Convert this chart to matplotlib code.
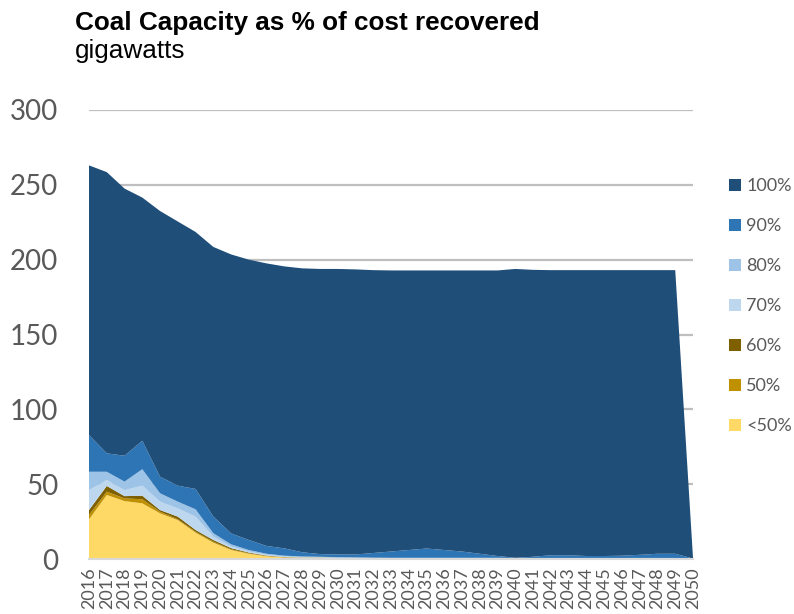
import matplotlib
matplotlib.use("Agg")
import matplotlib.pyplot as plt
from matplotlib.patches import Patch

years = list(range(2016, 2051))

# Capacity (GW) by share of cost recovered
lt50 = [26.5, 42.8, 38.7, 37.2, 30.5, 26.0, 17.6, 10.9, 6.0, 3.5, 1.8, 1.0, 0.8, 0.8,
        0.6, 0.5, 0.4, 0.3, 0.3, 0.3, 0.3, 0.3, 0.3, 0.3, 0.3, 0.3, 0.3, 0.3, 0.3,
        0.3, 0.3, 0.3, 0.3, 0.3, 0.0]
p50 = [2.9, 2.2, 1.8, 2.7, 1.1, 0.5, 0.6, 0.7, 0.5, 0.3, 0.2, 0.1, 0.1, 0.1,
       0.1, 0.1, 0.0, 0.0, 0.0, 0.0, 0.0, 0.0, 0.0, 0.0, 0.0, 0.0, 0.0, 0.0, 0.0,
       0.0, 0.0, 0.0, 0.0, 0.0, 0.0]
p60 = [3.3, 3.8, 1.5, 2.4, 1.1, 1.8, 1.2, 1.1, 0.8, 0.5, 0.3, 0.2, 0.1, 0.1,
       0.0, 0.0, 0.0, 0.0, 0.0, 0.0, 0.0, 0.0, 0.0, 0.0, 0.0, 0.0, 0.0, 0.0, 0.0,
       0.0, 0.0, 0.0, 0.0, 0.0, 0.0]
p70 = [13.3, 4.0, 4.0, 6.7, 5.6, 5.5, 8.9, 2.2, 1.0, 0.7, 0.5, 0.4, 0.3, 0.2,
       0.2, 0.2, 0.2, 0.2, 0.2, 0.2, 0.2, 0.2, 0.2, 0.2, 0.1, 0.1, 0.1, 0.1, 0.1,
       0.1, 0.1, 0.1, 0.1, 0.1, 0.0]
p80 = [12.3, 5.5, 5.7, 11.0, 5.6, 4.5, 4.9, 2.3, 1.5, 1.0, 0.7, 0.5, 0.4, 0.3,
       0.3, 0.3, 0.3, 0.3, 0.3, 0.3, 0.3, 0.3, 0.3, 0.3, 0.3, 0.3, 0.3, 0.3, 0.3,
       0.3, 0.3, 0.3, 0.3, 0.3, 0.0]
p90 = [24.5, 12.3, 17.3, 19.0, 11.1, 10.7, 13.6, 11.1, 7.3, 6.7, 5.2, 4.9, 2.8, 1.8,
       1.8, 1.9, 3.1, 4.2, 5.2, 6.2, 5.2, 4.2, 2.7, 1.2, 0.1, 0.8, 1.8, 1.8, 1.3,
       1.3, 1.5, 2.1, 2.8, 2.8, 0.3]
p100 = [180.2, 187.9, 178.5, 162.5, 177.5, 176.5, 171.7, 180.2, 186.4, 187.3, 188.8,
        188.4, 189.7, 190.5, 190.8, 190.5, 189.0, 187.8, 186.8, 185.8, 186.8, 187.8,
        189.3, 190.8, 193.0, 191.7, 190.5, 190.5, 191.0, 191.0, 190.8, 190.2, 189.5,
        189.5, 0.5]

series = [lt50, p50, p60, p70, p80, p90, p100]
labels = ["<50%", "50%", "60%", "70%", "80%", "90%", "100%"]
colors = ["#FFD966", "#BF9000", "#7F6000", "#BDD7EE", "#9DC3E6", "#2E75B6", "#1F4E79"]

gray = "#595959"

fig = plt.figure(figsize=(7.94, 6.14), dpi=100)
ax = fig.add_axes([89 / 794, 1 - 559 / 614, 604 / 794, 449 / 614])

x = list(range(len(years)))
ax.stackplot(x, *series, colors=colors, linewidth=0, zorder=2)

ax.set_xlim(0, len(years) - 1)
ax.set_ylim(0, 300)
ax.set_yticks(range(0, 301, 50))
ax.grid(axis="y", color="#BFBFBF", linewidth=1.6, zorder=1)
ax.set_axisbelow(True)

for s in ["top", "right", "left"]:
    ax.spines[s].set_visible(False)
ax.spines["bottom"].set_color("#D9D9D9")
ax.spines["bottom"].set_linewidth(1.5)
ax.spines["bottom"].set_zorder(3)

ax.set_xticks(x)
ax.set_xticklabels([str(y) for y in years], rotation=90, fontsize=13,
                   color=gray, family="Lato")
ax.tick_params(axis="x", length=0, pad=6)
ax.tick_params(axis="y", length=0, pad=22, labelsize=20, labelcolor=gray)
for t in ax.get_yticklabels():
    t.set_family("Lato")

fig.text(75 / 794, 1 - 30 / 614, "Coal Capacity as % of cost recovered",
         fontsize=18.8, fontweight="bold", family="Liberation Sans",
         va="baseline", ha="left", color="black")
fig.text(75 / 794, 1 - 58 / 614, "gigawatts", fontsize=18.8,
         family="Liberation Sans", va="baseline", ha="left", color="black")

handles = [Patch(facecolor=c, edgecolor="none") for c in colors][::-1]
leg = fig.legend(handles, labels[::-1], loc="upper left",
                 bbox_to_anchor=(729 / 794, 1 - 178 / 614), frameon=False,
                 borderpad=0, borderaxespad=0,
                 handlelength=0.65, handleheight=0.65, handletextpad=0.3,
                 labelspacing=1.33, prop={"family": "Lato", "size": 13})
for t in leg.get_texts():
    t.set_color(gray)

fig.savefig("out.png", dpi=100)
